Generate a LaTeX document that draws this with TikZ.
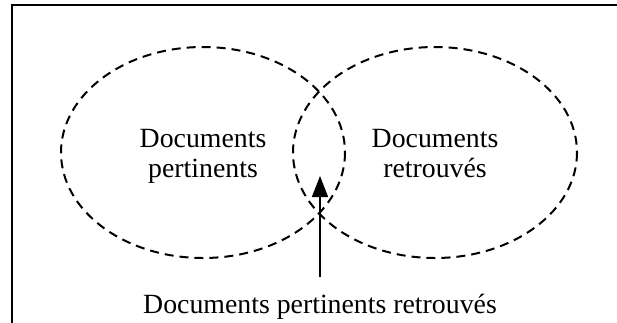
\documentclass[tikz,border=0pt]{standalone}
\usepackage{fontspec}
\setmainfont{Liberation Serif}
\usetikzlibrary{arrows.meta}
\begin{document}
\begin{tikzpicture}[x=1pt,y=-1pt,
  frameline/.style={line width=1.5pt},
  setline/.style={line width=2pt,dash pattern=on 9pt off 6pt},
  lbl/.style={inner sep=0pt,anchor=base,font=\fontsize{27.8}{30}\selectfont},
  arrowline/.style={line width=1.5pt,-{Triangle[length=21pt,width=16pt]}}]
\useasboundingbox (0,0) rectangle (617,322);
\draw[frameline] (12,330) -- (12,5) -- (625,5);
\draw[setline] (203,152.5) ellipse [x radius=142, y radius=105.5];
\draw[setline] (435,152.5) ellipse [x radius=142, y radius=105.5];
\node[lbl] (l1) at (203,147) {Documents};
\node[lbl] (l2) at (203,177) {pertinents};
\node[lbl] (r1) at (435,147) {Documents};
\node[lbl] (r2) at (435,177) {retrouvés};
\node[lbl] (bot) at (320,313) {Documents pertinents retrouvés};
\coordinate (tail) at (320,277);
\coordinate (tip) at (320,176);
\draw[arrowline] (tail) -- (tip);
\end{tikzpicture}
\end{document}
